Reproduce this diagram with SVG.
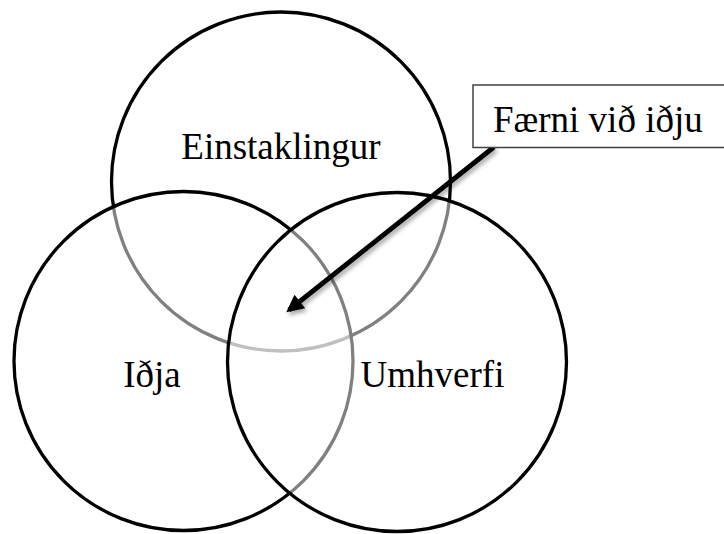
<svg xmlns="http://www.w3.org/2000/svg" width="724" height="534" viewBox="0 0 724 534">
<style>
.c{fill:#fff;fill-opacity:0.5;stroke:#000;stroke-width:3.3}
.t{font-family:"Liberation Serif","Times New Roman",serif;font-size:37px;fill:#000;text-anchor:middle}
.box{fill:#fff;stroke:#404040;stroke-width:1.5}
</style>
<defs>
<marker id="ah" viewBox="0 0 10 10" refX="8" refY="5" markerWidth="4.5" markerHeight="3.6" orient="auto" markerUnits="strokeWidth">
<path d="M0,0 L10,5 L0,10 z" fill="#000"/>
</marker>
<filter id="sh" x="-20%" y="-20%" width="140%" height="140%">
<feDropShadow dx="2" dy="3" stdDeviation="2" flood-color="#000" flood-opacity="0.35"/>
</filter>
</defs>
<rect width="724" height="534" fill="#fff"/>
<g id="einstaklingur">
<circle class="c" cx="281" cy="181.5" r="169.5"/>
<text class="t" x="281" y="159">Einstaklingur</text>
</g>
<g id="idja">
<circle class="c" cx="183.5" cy="361" r="169.5"/>
<text class="t" x="152" y="386.5">Iðja</text>
</g>
<g id="umhverfi">
<circle class="c" cx="397" cy="362" r="169.5"/>
<text class="t" x="432.5" y="386.5">Umhverfi</text>
</g>
<g id="connectors">
<line x1="494" y1="147" x2="289" y2="310" stroke="#000" stroke-width="4.8" marker-end="url(#ah)" filter="url(#sh)"/>
</g>
<g id="faerni">
<rect class="box" x="473" y="85" width="260" height="62.5"/>
<text class="t" x="493" y="132" style="text-anchor:start">Færni við iðju</text>
</g>
</svg>
